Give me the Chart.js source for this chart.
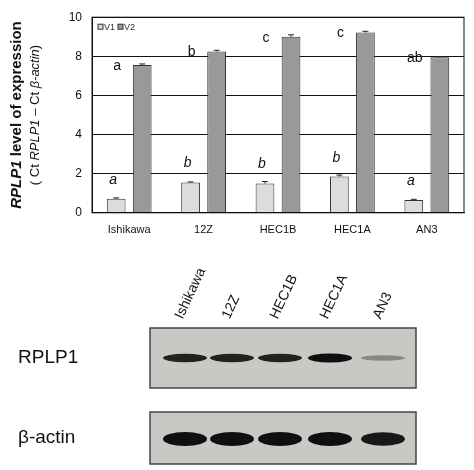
<!DOCTYPE html>
<html><head><meta charset="utf-8">
<script src="https://cdn.jsdelivr.net/npm/chart.js@4"></script>
<style>
body{margin:0;background:#fff;font-family:"Liberation Sans",Arial,sans-serif}
#wrap{position:absolute;left:0;top:0;width:474px;height:240px}
#blot{position:absolute;left:0;top:240px}
</style></head><body>
<div id="wrap"><canvas id="c"></canvas></div>
<canvas id="blot" width="474" height="230"></canvas>
<script>
const cells = ["Ishikawa", "12Z", "HEC1B", "HEC1A", "AN3"];
const v1 = [0.72, 1.55, 1.5, 1.85, 0.65];
const v1Err = [0.04, 0.03, 0.1, 0.08, 0.04];
const v2 = [7.55, 8.25, 9.0, 9.22, 7.95];
const v2Err = [0.06, 0.06, 0.1, 0.06, 0.03];
const v1Letters = ["a", "b", "b", "b", "a"];
const v2Letters = ["a", "b", "c", "c", "ab"];
const yTicks = [0, 2, 4, 6, 8, 10];
// relative band darkness / thickness for the western blot
const rplp1Bands = [0.9, 0.9, 0.9, 1.0, 0.35];
const actinBands = [1.0, 1.0, 1.0, 1.0, 0.95];

const FONT = '"Liberation Sans", Arial, sans-serif';

const extras = {
  id: "extras",
  afterDatasetsDraw(chart) {
    const ctx = chart.ctx, y = chart.scales.y, a = chart.chartArea;
    ctx.save();
    // error bars
    [[v1, v1Err], [v2, v2Err]].forEach(([vals, errs], d) => {
      chart.getDatasetMeta(d).data.forEach((bar, i) => {
        const top = y.getPixelForValue(vals[i] + errs[i]);
        ctx.strokeStyle = "#222"; ctx.lineWidth = 1;
        ctx.beginPath();
        ctx.moveTo(bar.x, bar.y); ctx.lineTo(bar.x, top);
        ctx.moveTo(bar.x - 3, top); ctx.lineTo(bar.x + 3, top);
        ctx.stroke();
      });
    });
    // significance letters
    ctx.fillStyle = "#111"; ctx.textAlign = "center"; ctx.textBaseline = "bottom";
    const m1 = chart.getDatasetMeta(0).data;
    m1.forEach((bar, i) => {
      ctx.font = "italic 14px " + FONT;
      ctx.fillText(v1Letters[i], bar.x - 3, y.getPixelForValue(v1[i]) - 12);
      ctx.font = "14px " + FONT;
      ctx.fillText(v2Letters[i], bar.x + 1, y.getPixelForValue(v2[i]) + 8);
    });
    // legend
    ctx.font = "9px " + FONT; ctx.textAlign = "left"; ctx.textBaseline = "middle";
    [["V1", "#dcdcdc", a.left + 6], ["V2", "#999", a.left + 26]].forEach(([t, c, x]) => {
      ctx.fillStyle = c; ctx.strokeStyle = "#333";
      ctx.fillRect(x, a.top + 7, 5, 5); ctx.strokeRect(x, a.top + 7, 5, 5);
      ctx.fillStyle = "#333"; ctx.fillText(t, x + 6, a.top + 10);
    });
    // y title
    ctx.translate(26, (a.top + a.bottom) / 2);
    ctx.rotate(-Math.PI / 2);
    ctx.fillStyle = "#111";
    const parts = [["bold italic 15px ", "RPLP1"], ["bold 15px ", " level of expression"]];
    const parts2 = [["13px ", "( Ct "], ["italic 13px ", "RPLP1"], ["13px ", " \u2013 Ct "], ["italic 13px ", "\u03b2-actin"], ["13px ", ")"]];
    [[parts, -9], [parts2, 9]].forEach(([ps, dy]) => {
      let w = 0;
      ps.forEach(p => { ctx.font = p[0] + FONT; w += ctx.measureText(p[1]).width; });
      let x = -w / 2; ctx.textAlign = "left";
      ps.forEach(p => { ctx.font = p[0] + FONT; ctx.fillText(p[1], x, dy); x += ctx.measureText(p[1]).width; });
    });
    ctx.restore();
  }
};

new Chart(document.getElementById("c"), {
  type: "bar",
  data: {
    labels: cells,
    datasets: [
      { label: "V1", data: v1, backgroundColor: "#dcdcdc", borderColor: "#333", borderWidth: 1 },
      { label: "V2", data: v2, backgroundColor: "#999999", borderColor: "#333", borderWidth: 1 }
    ]
  },
  options: {
    responsive: true, maintainAspectRatio: false, animation: false,
    categoryPercentage: 0.7, barPercentage: 0.72,
    layout: { padding: { top: 5, right: 10, left: 0, bottom: 0 } },
    plugins: { legend: { display: false }, tooltip: { enabled: false } },
    scales: {
      x: {
        grid: { display: false }, border: { color: "#111" },
        ticks: { color: "#111", font: { family: FONT, size: 11 } }
      },
      y: {
        min: 0, max: 10,
        afterBuildTicks: s => { s.ticks = yTicks.map(v => ({ value: v })); },
        afterFit: s => { s.width = 92; },
        grid: { color: "#111", drawTicks: false, lineWidth: 1 },
        border: { color: "#111" },
        ticks: { color: "#111", padding: 10, font: { family: FONT, size: 12 } }
      }
    }
  },
  plugins: [extras, {
    id: "frame",
    afterDraw(chart) {
      const a = chart.chartArea, ctx = chart.ctx;
      ctx.save(); ctx.strokeStyle = "#111"; ctx.lineWidth = 1;
      ctx.strokeRect(a.left, a.top, a.right - a.left, a.bottom - a.top);
      ctx.restore();
    }
  }]
});

// western blot panel
const b = document.getElementById("blot").getContext("2d");
const laneX = [185, 232, 280, 330, 383];
b.font = "14px " + FONT; b.fillStyle = "#111";
cells.forEach((c, i) => {
  b.save(); b.translate(laneX[i] - 6, 78); b.rotate(-Math.PI * 0.36);
  b.textAlign = "left"; b.textBaseline = "middle"; b.fillText(c, 0, 0); b.restore();
});
function panel(top, h, bands, bandY, thick) {
  b.fillStyle = "#c8c8c4"; b.fillRect(150, top, 266, h);
  b.strokeStyle = "#444"; b.lineWidth = 1.5; b.strokeRect(150, top, 266, h);
  bands.forEach((s, i) => {
    b.fillStyle = `rgba(15,15,15,${s})`;
    b.beginPath();
    b.ellipse(laneX[i], top + bandY, 22, thick * (0.4 + 0.6 * s), 0, 0, Math.PI * 2);
    b.fill();
  });
}
panel(88, 60, rplp1Bands, 30, 4.5);
panel(172, 52, actinBands, 27, 7);
b.fillStyle = "#111"; b.font = "19px " + FONT; b.textBaseline = "middle";
b.fillText("RPLP1", 18, 118);
b.fillText("\u03b2-actin", 18, 198);
</script></body></html>
